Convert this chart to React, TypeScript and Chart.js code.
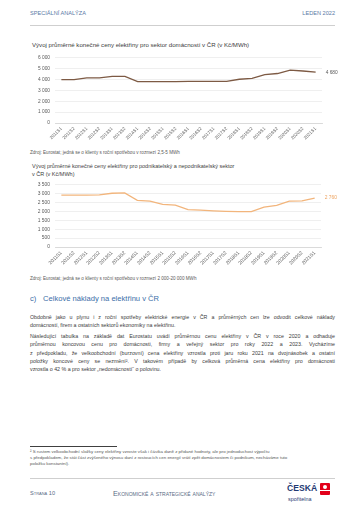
import React, { useEffect, useRef } from "react";
import { Chart, registerables } from "chart.js";

Chart.register(...registerables);

const PERIODS = [
  "2011S1", "2011S2", "2012S1", "2012S2", "2013S1", "2013S2", "2014S1",
  "2014S2", "2015S1", "2015S2", "2016S1", "2016S2", "2017S1", "2017S2",
  "2018S1", "2018S2", "2019S1", "2019S2", "2020S1", "2020S2", "2021S1",
];

const HOUSEHOLD_PRICES = [
  4000, 4000, 4150, 4150, 4300, 4300, 3820, 3820, 3820, 3820, 3830,
  3830, 3830, 3840, 4030, 4120, 4460, 4560, 4870, 4790, 4680,
];

const BUSINESS_PRICES = [
  2930, 2920, 2930, 2940, 3030, 3050, 2630, 2590, 2400, 2360, 2110,
  2080, 2040, 2010, 1990, 1990, 2250, 2350, 2590, 2600, 2760,
];

const HOUSEHOLD_AXIS = { max: 6000, step: 1000 };
const BUSINESS_AXIS = { max: 3500, step: 500 };
const HOUSEHOLD_END_LABEL = "4 680";
const BUSINESS_END_LABEL = "2 760";

const FONT = "'Liberation Sans', Arial, sans-serif";

function fmt(v: number): string {
  return String(v).replace(/\B(?=(\d{3})+(?!\d))/g, "\u00a0");
}

type LineProps = {
  left: number;
  top: number;
  width: number;
  height: number;
  padTop: number;
  padRight: number;
  yAxisW: number;
  xAxisH: number;
  values: number[];
  color: string;
  lineWidth: number;
  max: number;
  step: number;
  endLabel: string;
  endColor: string;
  yTickSize: number;
  xTickSize: number;
};

function LineChart(p: LineProps) {
  const ref = useRef<HTMLCanvasElement | null>(null);
  useEffect(() => {
    if (!ref.current) return;
    const endLabelPlugin = {
      id: "endLabel",
      afterDatasetsDraw(chart: any) {
        const meta = chart.getDatasetMeta(0);
        const pt = meta.data[meta.data.length - 1];
        const ctx = chart.ctx;
        ctx.save();
        ctx.font = `${p.yTickSize}px ${FONT}`;
        ctx.fillStyle = p.endColor;
        ctx.textAlign = "left";
        ctx.textBaseline = "middle";
        ctx.fillText(p.endLabel, pt.x + 10, pt.y);
        ctx.restore();
      },
    };
    const chart = new Chart(ref.current, {
      type: "line",
      data: {
        labels: PERIODS,
        datasets: [
          {
            data: p.values,
            borderColor: p.color,
            borderWidth: p.lineWidth,
            pointRadius: 0,
            tension: 0,
            fill: false,
          },
        ],
      },
      options: {
        responsive: false,
        animation: false,
        devicePixelRatio: 1,
        layout: { padding: { left: 0, right: p.padRight, top: p.padTop, bottom: 0 } },
        plugins: { legend: { display: false }, tooltip: { enabled: false } },
        scales: {
          x: {
            offset: true,
            grid: { display: false, drawTicks: false },
            border: { display: true, color: "#d4d4d4", width: 0.8 },
            ticks: {
              autoSkip: false,
              maxRotation: 45,
              minRotation: 45,
              padding: 3,
              color: "#595959",
              font: { size: p.xTickSize, family: FONT },
            },
            afterFit: (s: any) => {
              s.height = p.xAxisH;
            },
          },
          y: {
            min: 0,
            max: p.max,
            grid: { color: "#e4e4e4", lineWidth: 0.6, drawTicks: false },
            border: { display: false },
            ticks: {
              stepSize: p.step,
              autoSkip: false,
              padding: 5,
              color: "#595959",
              font: { size: p.yTickSize, family: FONT },
              callback: (v: any) => fmt(Number(v)),
            },
            afterFit: (s: any) => {
              s.width = p.yAxisW;
            },
          },
        },
      } as any,
      plugins: [endLabelPlugin],
    });
    return () => chart.destroy();
  }, []);
  return (
    <canvas
      ref={ref}
      width={p.width}
      height={p.height}
      style={{ position: "absolute", left: p.left, top: p.top, width: p.width, height: p.height }}
    />
  );
}

type TxtProps = {
  x: number;
  y: number;
  size: number;
  color?: string;
  children: React.ReactNode;
  style?: React.CSSProperties;
};

function Txt({ x, y, size, color = "#404040", children, style }: TxtProps) {
  const lh = size * 1.3;
  return (
    <div
      style={{
        position: "absolute",
        left: x,
        top: y - lh / 2,
        fontSize: size,
        lineHeight: `${lh}px`,
        color,
        whiteSpace: "nowrap",
        fontFamily: FONT,
        ...style,
      }}
    >
      {children}
    </div>
  );
}

function JLine({ y, text, last }: { y: number; text: string; last?: boolean }) {
  const size = 5.3;
  const lh = 7;
  return (
    <div
      style={{
        position: "absolute",
        left: 30,
        width: 305,
        top: y - lh / 2,
        fontSize: size,
        lineHeight: `${lh}px`,
        color: "#404040",
        fontFamily: FONT,
        textAlign: last ? "left" : "justify",
        textAlignLast: last ? "left" : "justify",
      } as React.CSSProperties}
    >
      {text}
    </div>
  );
}

const P1 = [
  "Obdobně jako u plynu i z roční spotřeby elektrické energie v ČR a průměrných cen lze odvodit celkové náklady",
  "domácností, firem a ostatních sektorů ekonomiky na elektřinu.",
];
const P2 = [
  "Následující tabulka na základě dat Eurostatu uvádí průměrnou cenu elektřiny v ČR v roce 2020 a odhaduje",
  "průměrnou koncovou cenu pro domácnosti, firmy a veřejný sektor pro roky 2022 a 2023. Vycházíme",
  "z předpokladu, že velkoobchodní (burzovní) cena elektřiny vzrostla proti jaru roku 2021 na dvojnásobek a ostatní",
  "položky koncové ceny se nezmění². V takovém případě by celková průměrná cena elektřiny pro domácnosti",
  "vzrostla o 42 % a pro sektor „nedomácností“ o polovinu.",
];
const FOOTNOTE = [
  "² S růstem velkoobchodní složky ceny elektřiny vzroste však i částka daně z přidané hodnoty, ale pro jednoduchost výpočtu",
  "s předpokladem, že stát část zvýšeného výnosu daní z rostoucích cen energií vrátí zpět domácnostem či podnikům, necháváme tuto",
  "položku konstantní).",
];

export default function App() {
  return (
    <div
      style={{
        position: "absolute",
        left: 0,
        top: 0,
        width: 360,
        height: 509,
        background: "#ffffff",
        overflow: "hidden",
        fontFamily: FONT,
      }}
    >
      {/* header */}
      <Txt x={30} y={14} size={5.6} color="#5b7aa6">SPECIÁLNÍ ANALÝZA</Txt>
      <Txt x={0} y={14} size={5.6} color="#5b7aa6" style={{ left: "auto", right: 25 }}>LEDEN 2022</Txt>
      <div style={{ position: "absolute", left: 30, top: 25, width: 305, height: 0, borderTop: "0.8px solid #cfcfcf" }} />

      {/* chart 1 */}
      <Txt x={32} y={45} size={6.1}>Vývoj průměrné konečné ceny elektřiny pro sektor domácností v ČR (v Kč/MWh)</Txt>
      <LineChart
        left={20}
        top={50}
        width={330}
        height={95}
        padTop={7}
        padRight={28}
        yAxisW={35}
        xAxisH={22}
        values={HOUSEHOLD_PRICES}
        color="#7d5a44"
        lineWidth={1.3}
        max={HOUSEHOLD_AXIS.max}
        step={HOUSEHOLD_AXIS.step}
        endLabel={HOUSEHOLD_END_LABEL}
        endColor="#595959"
        yTickSize={4.8}
        xTickSize={4.5}
      />
      <Txt x={30} y={153} size={4.6} color="#595959">Zdroj: Eurostat; jedná se o klienty s roční spotřebou v rozmezí 2,5-5 MWh</Txt>

      {/* chart 2 */}
      <Txt x={32} y={167} size={5.5}>Vývoj průměrné konečné ceny elektřiny pro podnikatelský a nepodnikatelský sektor</Txt>
      <Txt x={32} y={174.5} size={5.5}>v ČR (v Kč/MWh)</Txt>
      <LineChart
        left={20}
        top={177}
        width={330}
        height={96}
        padTop={7}
        padRight={29}
        yAxisW={35}
        xAxisH={26}
        values={BUSINESS_PRICES}
        color="#f2b57c"
        lineWidth={1.3}
        max={BUSINESS_AXIS.max}
        step={BUSINESS_AXIS.step}
        endLabel={BUSINESS_END_LABEL}
        endColor="#eea25e"
        yTickSize={4.9}
        xTickSize={4.9}
      />
      <Txt x={30} y={279} size={4.6} color="#595959">Zdroj: Eurostat; jedná se o klienty s roční spotřebou v rozmezí 2 000-20 000 MWh</Txt>

      {/* section */}
      <Txt x={30} y={299} size={7.6} color="#3b6ea8">c)</Txt>
      <Txt x={43} y={299} size={7.6} color="#3b6ea8">Celkové náklady na elektřinu v ČR</Txt>

      {P1.map((t, i) => (
        <JLine key={"p1" + i} y={317 + i * 8.3} text={t} last={i === P1.length - 1} />
      ))}
      {P2.map((t, i) => (
        <JLine key={"p2" + i} y={336.5 + i * 8.3} text={t} last={i === P2.length - 1} />
      ))}

      {/* footnote */}
      <div style={{ position: "absolute", left: 30, top: 446, width: 87, height: 0, borderTop: "0.8px solid #404040" }} />
      {FOOTNOTE.map((t, i) => (
        <Txt key={"fn" + i} x={30} y={451.5 + i * 6} size={4.4} color="#595959">{t}</Txt>
      ))}

      {/* footer */}
      <div style={{ position: "absolute", left: 30, top: 478, width: 305, height: 0, borderTop: "0.8px solid #cfcfcf" }} />
      <Txt x={30} y={494} size={5.6} color="#5a6b85" style={{ fontVariant: "small-caps" }}>Strana 10</Txt>
      <Txt x={113} y={494} size={7.2} color="#5a6b85" style={{ fontVariant: "small-caps" }}>Ekonomické a strategické analýzy</Txt>
      <Txt x={287} y={489} size={8.6} color="#1f3a73" style={{ fontWeight: "bold" }}>ČESKÁ</Txt>
      <Txt x={288} y={499.5} size={5.4} color="#1f3a73">spořitelna</Txt>
      <div style={{ position: "absolute", left: 320, top: 483, width: 10, height: 12, background: "#e2001a", borderRadius: 1 }} />
      <div style={{ position: "absolute", left: 323, top: 484.5, width: 4, height: 4, background: "#ffffff", borderRadius: "50%" }} />
      <div style={{ position: "absolute", left: 320, top: 490, width: 10, height: 1.2, background: "#ffffff" }} />
    </div>
  );
}
